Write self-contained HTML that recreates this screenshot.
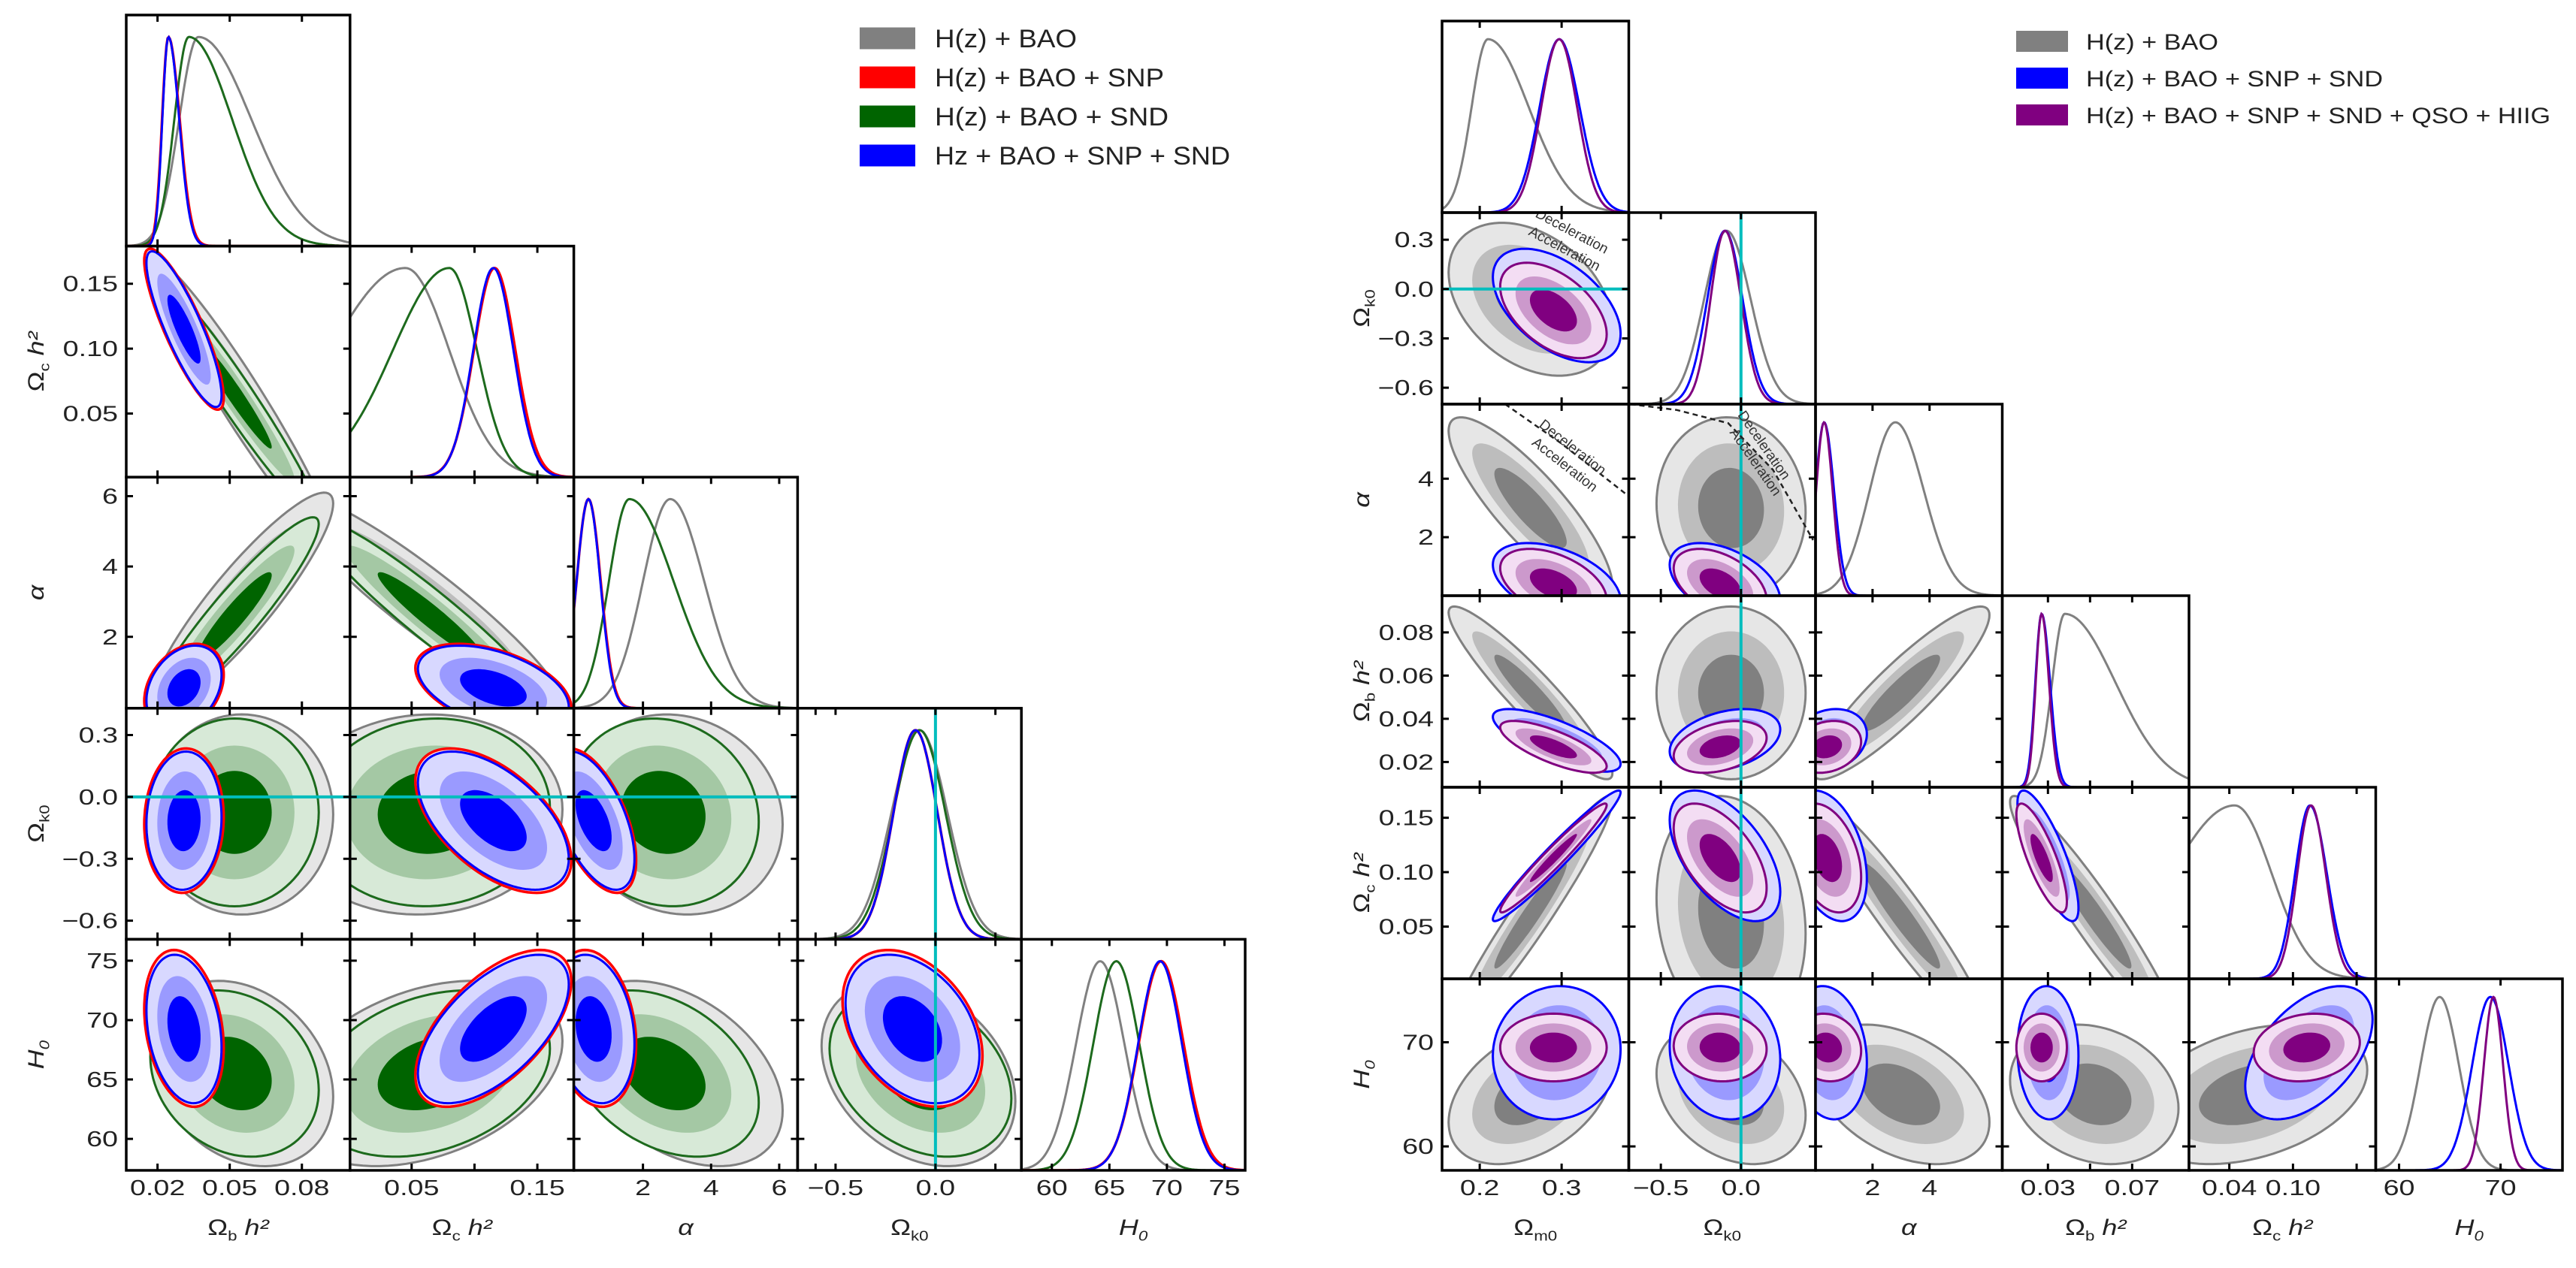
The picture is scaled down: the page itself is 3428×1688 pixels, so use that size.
<!DOCTYPE html>
<html><head><meta charset="utf-8">
<style>
html,body{margin:0;padding:0;background:#fff;}
svg{display:block;font-family:"Liberation Sans",sans-serif;}
</style></head>
<body>
<svg id="fig" xmlns="http://www.w3.org/2000/svg" width="3428" height="1688" viewBox="0 0 3428 1688">
<rect x="0" y="0" width="3428" height="1688" fill="#fff"/>
<defs id="defs"></defs>
</svg>
<script>
// ================= LEFT TRIANGLE DATA =================
// parameter order: Ob h^2, Oc h^2, alpha, Ok0, H0
// pair order for correlations: (0,1),(0,2),(0,3),(0,4),(1,2),(1,3),(1,4),(2,3),(2,4),(3,4)
const L_gray_center = [0.055, 0.060, 3.0, -0.085, 65.5];
const L_gray_extent = [0.038, 0.110, 3.1, 0.485, 7.8];
const L_gray_corr = [-0.96, 0.90, 0.0, -0.25, -0.93, 0.05, 0.35, -0.10, -0.40, -0.30];
const L_gray_peak = [0.037, 0.045, 2.8, -0.08, 64.2];
const L_gray_sigL = [0.008, 0.060, 0.8, 0.14, 2.1];
const L_gray_sigR = [0.022, 0.035, 1.0, 0.14, 2.1];

const L_green_center = [0.052, 0.065, 2.6, -0.075, 65.5];
const L_green_extent = [0.035, 0.095, 2.8, 0.455, 7.0];
const L_green_corr = [-0.97, 0.93, 0.0, -0.20, -0.95, 0.05, 0.30, -0.10, -0.35, -0.30];
const L_green_peak = [0.033, 0.080, 1.6, -0.08, 65.6];
const L_green_sigL = [0.006, 0.045, 0.6, 0.13, 2.0];
const L_green_sigR = [0.018, 0.022, 1.3, 0.13, 2.0];

const L_red_center = [0.031, 0.115, 0.55, -0.115, 69.3];
const L_red_extent = [0.0165, 0.062, 1.25, 0.35, 6.6];
const L_red_corr = [-0.85, 0.30, 0.05, -0.25, -0.45, -0.55, 0.60, -0.55, -0.20, -0.35];
const L_red_peak = [0.0245, 0.116, 0.4, -0.10, 69.5];
const L_red_sigL = [0.0026, 0.0165, 0.35, 0.11, 1.95];
const L_red_sigR = [0.0047, 0.0165, 0.36, 0.11, 1.95];

const L_blue_center = [0.031, 0.115, 0.55, -0.115, 69.25];
const L_blue_extent = [0.0156, 0.060, 1.2, 0.335, 6.25];
const L_blue_corr = [-0.85, 0.30, 0.05, -0.25, -0.45, -0.55, 0.60, -0.55, -0.20, -0.35];
const L_blue_peak = [0.0245, 0.115, 0.4, -0.10, 69.4];
const L_blue_sigL = [0.0025, 0.016, 0.35, 0.11, 1.9];
const L_blue_sigR = [0.0045, 0.016, 0.35, 0.11, 1.9];

const L_xticklabels = [["0.02","0.05","0.08"],["0.05","","0.15"],["2","4","6"],["","−0.5","0.0",""],["60","65","70","75"]];
const L_xtickvals = [[0.02,0.05,0.08],[0.05,0.10,0.15],[2,4,6],[-0.6,-0.5,0.0,0.3],[60,65,70,75]];
const L_ytickvals = [[0.02,0.05,0.08],[0.05,0.10,0.15],[2,4,6],[-0.6,-0.3,0.0,0.3],[60,65,70,75]];
const L_yticklabels = [["","",""],["0.05","0.10","0.15"],["2","4","6"],["−0.6","−0.3","0.0","0.3"],["60","65","70","75"]];
const L_legend = ["H(z) + BAO","H(z) + BAO + SNP","H(z) + BAO + SND","Hz + BAO + SNP + SND"];

// ================= RIGHT TRIANGLE DATA =================
// parameter order: Om0, Ok0, alpha, Ob h^2, Oc h^2, H0
// pairs: (0,1),(0,2),(0,3),(0,4),(0,5),(1,2),(1,3),(1,4),(1,5),(2,3),(2,4),(2,5),(3,4),(3,5),(4,5)
const R_gray_center = [0.262, -0.062, 3.0, 0.052, 0.060, 65.0];
const R_gray_extent = [0.100, 0.465, 3.1, 0.040, 0.110, 6.7];
const R_gray_corr = [-0.35, -0.85, -0.93, 0.96, 0.40, -0.05, 0.0, -0.15, -0.30, 0.90, -0.95, -0.40, -0.95, -0.20, 0.35];
const R_gray_peak = [0.210, -0.09, 2.8, 0.038, 0.045, 64.0];
const R_gray_sigL = [0.020, 0.14, 0.9, 0.006, 0.060, 1.9];
const R_gray_sigR = [0.050, 0.15, 1.0, 0.024, 0.035, 1.9];

const R_blue_center = [0.294, -0.10, 0.45, 0.030, 0.115, 69.0];
const R_blue_extent = [0.078, 0.345, 1.35, 0.0145, 0.060, 6.4];
const R_blue_corr = [-0.50, -0.45, -0.75, 0.97, 0.05, -0.45, 0.35, -0.55, -0.10, 0.20, -0.35, -0.15, -0.80, -0.05, 0.50];
const R_blue_peak = [0.297, -0.10, 0.3, 0.027, 0.116, 69.0];
const R_blue_sigL = [0.024, 0.11, 0.30, 0.0030, 0.014, 1.8];
const R_blue_sigR = [0.025, 0.11, 0.35, 0.0040, 0.016, 1.8];

const R_purple_center = [0.290, -0.13, 0.40, 0.027, 0.113, 69.5];
const R_purple_extent = [0.065, 0.290, 1.2, 0.012, 0.050, 3.25];
const R_purple_corr = [-0.50, -0.45, -0.75, 0.97, 0.0, -0.45, 0.35, -0.55, -0.05, 0.20, -0.35, -0.10, -0.80, 0.0, 0.15];
const R_purple_peak = [0.297, -0.10, 0.3, 0.027, 0.117, 69.3];
const R_purple_sigL = [0.022, 0.09, 0.28, 0.0028, 0.013, 0.95];
const R_purple_sigR = [0.022, 0.10, 0.30, 0.0035, 0.014, 0.95];

const R_xtickvals = [[0.2,0.3],[-0.5,0.0],[2,4],[0.03,0.05,0.07],[0.04,0.10,0.16],[60,70]];
const R_xticklabels = [["0.2","0.3"],["−0.5","0.0"],["2","4"],["0.03","","0.07"],["0.04","0.10",""],["60","70"]];
const R_ytickvals = [[],[-0.6,-0.3,0.0,0.3],[2,4],[0.02,0.04,0.06,0.08],[0.05,0.10,0.15],[60,70]];
const R_yticklabels = [[],["−0.6","−0.3","0.0","0.3"],["2","4"],["0.02","0.04","0.06","0.08"],["0.05","0.10","0.15"],["60","70"]];
const R_legend = ["H(z) + BAO","H(z) + BAO + SNP + SND","H(z) + BAO + SNP + SND + QSO + HIIG"];

// q0 = 0 (deceleration/acceleration) boundary lines
const R_q0_om = [0.231, 0.300, 0.382];
const R_q0_alpha_vs_om = [6.55, 5.20, 3.40];
const R_q0_ok = [-0.69, -0.40, -0.08, 0.20, 0.45];
const R_q0_alpha_vs_ok = [6.55, 6.35, 5.90, 4.30, 1.90];

// ================= LAYOUT =================
const NS = 'http://www.w3.org/2000/svg';
const svg = document.getElementById('fig');
const defs = document.getElementById('defs');
const K = [3.44, 2.45, 1.52];
const LG = {x0:168, cw:297.8, y0:20, rh:307.6, n:5,
  ranges:[[0.007,0.100],[0.001,0.179],[-0.03,6.54],[-0.69,0.43],[57.35,76.8]],
  names:['ob','oc','alpha','ok','h0']};
const RG = {x0:1919, cw:248.5, y0:28, rh:255, n:6,
  ranges:[[0.154,0.382],[-0.70,0.465],[0.0,6.55],[0.0083,0.097],[0.002,0.178],[57.7,76.1]],
  names:['om','ok','alpha','ob','oc','h0']};

const STY = {
  gray:{fill:['#e6e6e6','#bdbdbd','#808080'], line:'#808080', lw:3},
  green:{fill:['#d7e9d7','#a4c8a4','#006400'], line:'#1d6a1d', lw:3},
  red:{fill:['#ffdada','#ff9d9d','#ff0000'], line:'#ff0000', lw:3.5},
  blue:{fill:['#d8d8ff','#9a9aff','#0000ff'], line:'#0000ff', lw:3},
  purple:{fill:['#f3ddf3','#cc99cc','#800080'], line:'#800080', lw:3}
};

function mk(tag, parent){ const e=document.createElementNS(NS,tag); (parent||svg).appendChild(e); return e; }
function X(g,j,v){ const r=g.ranges[j]; return g.x0+j*g.cw+(v-r[0])/(r[1]-r[0])*g.cw; }
function Y(g,i,v){ const r=g.ranges[i]; return g.y0+(i+1)*g.rh-(v-r[0])/(r[1]-r[0])*g.rh; }
function pairIndex(n,i,j){ let a=Math.min(i,j), b=Math.max(i,j), k=0; for(let p=0;p<n;p++) for(let q=p+1;q<n;q++){ if(p===a&&q===b) return k; k++; } return -1; }

function clipFor(id, x, y, w, h){
  const cp=mk('clipPath',defs); cp.setAttribute('id',id);
  const r=mk('rect',cp); r.setAttribute('x',x); r.setAttribute('y',y); r.setAttribute('width',w); r.setAttribute('height',h);
}

function stretchedText(parent, x, y, str, size, anchor, sxScale, fill){
  const t=mk('text',parent);
  t.setAttribute('transform','translate('+x+','+y+') scale('+sxScale+',1)');
  t.setAttribute('font-size',size); t.setAttribute('text-anchor',anchor); t.setAttribute('fill',fill||'#222');
  t.textContent=str;
  return t;
}

function drawContours(g, grp, i, j, ds, name){
  const st=STY[name];
  const n=g.n;
  const rho=ds.corr[pairIndex(n,i,j)];
  const mx=ds.center[j], my=ds.center[i];
  const sdx=ds.extent[j]/3.44, sdy=ds.extent[i]/3.44;
  const s=Math.sqrt(Math.max(0,1-rho*rho));
  const paths=[];
  for(let L=0;L<3;L++){
    const k=K[L]; let d='';
    for(let t=0;t<=96;t++){
      const a=t/96*2*Math.PI;
      const u=Math.cos(a), w=rho*Math.cos(a)+s*Math.sin(a);
      const px=X(g,j,mx+k*sdx*u), py=Y(g,i,my+k*sdy*w);
      d+=(t?'L':'M')+px.toFixed(1)+' '+py.toFixed(1);
    }
    d+='Z'; paths.push(d);
    const p=mk('path',grp); p.setAttribute('d',d); p.setAttribute('fill',st.fill[L]);
    
    
  }
  const o=mk('path',grp); o.setAttribute('d',paths[0]); o.setAttribute('fill','none');
  o.setAttribute('stroke',st.line); o.setAttribute('stroke-width',st.lw);
  
  
}

function drawMarginal(g, grp, j, ds, name){
  const st=STY[name]; const r=g.ranges[j];
  const base=g.y0+(j+1)*g.rh; const h=g.rh;
  let d='';
  for(let t=0;t<=200;t++){
    const v=r[0]+(r[1]-r[0])*t/200;
    const sg = v<ds.peak[j]? ds.sigL[j] : ds.sigR[j];
    const dens=Math.exp(-0.5*Math.pow((v-ds.peak[j])/sg,2));
    const py=base-0.905*h*dens;
    d+=(t?'L':'M')+X(g,j,v).toFixed(1)+' '+py.toFixed(1);
  }
  const p=mk('path',grp); p.setAttribute('d',d); p.setAttribute('fill','none');
  p.setAttribute('stroke',st.line); p.setAttribute('stroke-width',st.lw);
  
  
}

function tickMarks(grp, x, y, w, h, xt, yt, g, i, j){
  let d='';
  const T=9;
  if(xt) xt.forEach(v=>{ const px=X(g,j,v); if(px<x+2||px>x+w-2) return; d+='M'+px+' '+(y+h)+'v'+(-T)+'M'+px+' '+y+'v'+T; });
  if(yt) yt.forEach(v=>{ const py=Y(g,i,v); if(py<y+2||py>y+h-2) return; d+='M'+x+' '+py+'h'+T+'M'+(x+w)+' '+py+'h'+(-T); });
  const p=mk('path',grp); p.setAttribute('d',d); p.setAttribute('stroke','#000'); p.setAttribute('stroke-width',3); p.setAttribute('fill','none');
  
  
}

function cyan(grp, x1,y1,x2,y2){
  const l=mk('line',grp); l.setAttribute('x1',x1); l.setAttribute('y1',y1); l.setAttribute('x2',x2); l.setAttribute('y2',y2);
  l.setAttribute('stroke','#00bdbd'); l.setAttribute('stroke-width',4);
  
  
}

function axisLabel(parent, x, y, base, sub, tail, italic, rotate, size){
  const t=mk('text',parent);
  t.setAttribute('font-size',size); t.setAttribute('text-anchor','middle'); t.setAttribute('fill','#222');
  t.setAttribute('transform','translate('+x+','+y+')'+(rotate?' rotate(-90)':'')+' scale(1.2,1)');
  if(italic) t.setAttribute('font-style','italic');
  const a=mk('tspan',t); a.textContent=base;
  if(sub){ const b=mk('tspan',t); b.setAttribute('font-size',size*0.62); b.setAttribute('dy',size*0.25); b.textContent=sub; }
  if(tail){ const c=mk('tspan',t); c.setAttribute('dy',sub?-size*0.25:0); c.setAttribute('font-style','italic'); c.textContent=' '+tail; }
  return t;
}

function buildTriangle(g, sets, xtv, xtl, ytv, ytl, labels, side){
  const root=mk('g'); 
  
  const n=g.n;
  const okIdx=g.names.indexOf('ok');
  for(let i=0;i<n;i++){
    for(let j=0;j<=i;j++){
      const x=g.x0+j*g.cw, y=g.y0+i*g.rh, w=g.cw, h=g.rh;
      const pg=mk('g',root);
      
      
      const cid=side+'clip'+i+'_'+j; clipFor(cid,x,y,w,h);
      const inner=mk('g',pg); inner.setAttribute('clip-path','url(#'+cid+')');
      if(i===j){
        sets.forEach(s=>drawMarginal(g,inner,j,s.ds,s.name));
        if(j===okIdx) cyan(inner,X(g,j,0),y,X(g,j,0),y+h);
      } else {
        sets.forEach(s=>drawContours(g,inner,i,j,s.ds,s.name));
        if(i===okIdx) cyan(inner,x,Y(g,i,0),x+w,Y(g,i,0));
        if(j===okIdx) cyan(inner,X(g,j,0),y,X(g,j,0),y+h);
      }
      if(side==='right') drawQ0(g,inner,i,j);
      tickMarks(pg,x,y,w,h,xtv[j], i===j?null:ytv[i], g,i,j);
      const fr=mk('rect',pg); fr.setAttribute('x',x); fr.setAttribute('y',y); fr.setAttribute('width',w); fr.setAttribute('height',h);
      fr.setAttribute('fill','none'); fr.setAttribute('stroke','#000'); fr.setAttribute('stroke-width',3.5);
      
      
    }
  }
  const bottom=g.y0+n*g.rh;
  for(let j=0;j<n;j++){
    xtv[j].forEach((v,k)=>{ const lab=xtl[j][k]; if(!lab) return;
      const t=stretchedText(root, X(g,j,v), bottom+33, lab, 29, 'middle', 1.3);
      
      
    });
  }
  for(let i=1;i<n;i++){
    ytv[i].forEach((v,k)=>{ const lab=ytl[i][k]; if(!lab) return;
      const t=stretchedText(root, g.x0-11, Y(g,i,v)+10, lab, 29, 'end', 1.3);
      
      
    });
  }
  for(let j=0;j<n;j++){
    const L=labels[j];
    const t=axisLabel(root, g.x0+(j+0.5)*g.cw, 1644, L[0], L[1], L[2], L[3], false, 30);
    
    
  }
  for(let i=1;i<n;i++){
    const L=labels[i];
    const t=axisLabel(root, side==='left'?58:1822, g.y0+(i+0.5)*g.rh, L[0], L[1], L[2], L[3], true, 30);
    
    
  }
}

function drawQ0(g, grp, i, j){
  const nm=g.names;
  function poly(xs, ys, jx, iy){
    let d='';
    xs.forEach((v,k)=>{ d+=(k?'L':'M')+X(g,jx,v).toFixed(1)+' '+Y(g,iy,ys[k]).toFixed(1); });
    const p=mk('path',grp); p.setAttribute('d',d); p.setAttribute('fill','none');
    p.setAttribute('stroke','#222'); p.setAttribute('stroke-width',2.5); p.setAttribute('stroke-dasharray','7 5');
    
    
  }
  function lbl(x,y,ang){
    const a=mk('text',grp); a.setAttribute('font-size',19); a.setAttribute('fill','#333'); a.setAttribute('text-anchor','middle');
    a.setAttribute('transform','translate('+x+','+(y-6)+') rotate('+ang+')'); a.textContent='Deceleration';
    
    
    const b=mk('text',grp); b.setAttribute('font-size',19); b.setAttribute('fill','#333'); b.setAttribute('text-anchor','middle');
    b.setAttribute('transform','translate('+(x-8)+','+(y+14)+') rotate('+ang+')'); b.setAttribute('dy',4); b.textContent='Acceleration';
    
    
  }
  if(nm[i]==='alpha' && nm[j]==='om'){
    poly(R_q0_om, R_q0_alpha_vs_om, j, i);
    lbl(X(g,j,0.31), Y(g,i,4.9)+4, 38);
  }
  if(nm[i]==='alpha' && nm[j]==='ok'){
    poly(R_q0_ok, R_q0_alpha_vs_ok, j, i);
    lbl(X(g,j,0.12), Y(g,i,4.9), 55);
  }
  if(nm[i]==='ok' && nm[j]==='om'){
    lbl(X(g,j,0.31), Y(g,i,0.30), 28);
  }
}

buildTriangle(LG,
  [{name:'gray',ds:{center:L_gray_center,extent:L_gray_extent,corr:L_gray_corr,peak:L_gray_peak,sigL:L_gray_sigL,sigR:L_gray_sigR}},
   {name:'green',ds:{center:L_green_center,extent:L_green_extent,corr:L_green_corr,peak:L_green_peak,sigL:L_green_sigL,sigR:L_green_sigR}},
   {name:'red',ds:{center:L_red_center,extent:L_red_extent,corr:L_red_corr,peak:L_red_peak,sigL:L_red_sigL,sigR:L_red_sigR}},
   {name:'blue',ds:{center:L_blue_center,extent:L_blue_extent,corr:L_blue_corr,peak:L_blue_peak,sigL:L_blue_sigL,sigR:L_blue_sigR}}],
  L_xtickvals, L_xticklabels, L_ytickvals, L_yticklabels,
  [['Ω','b','h²',false],['Ω','c','h²',false],['α','','',true],['Ω','k0','',false],['H','0','',true]], 'left');

buildTriangle(RG,
  [{name:'gray',ds:{center:R_gray_center,extent:R_gray_extent,corr:R_gray_corr,peak:R_gray_peak,sigL:R_gray_sigL,sigR:R_gray_sigR}},
   {name:'blue',ds:{center:R_blue_center,extent:R_blue_extent,corr:R_blue_corr,peak:R_blue_peak,sigL:R_blue_sigL,sigR:R_blue_sigR}},
   {name:'purple',ds:{center:R_purple_center,extent:R_purple_extent,corr:R_purple_corr,peak:R_purple_peak,sigL:R_purple_sigL,sigR:R_purple_sigR}}],
  R_xtickvals, R_xticklabels, R_ytickvals, R_yticklabels,
  [['Ω','m0','',false],['Ω','k0','',false],['α','','',true],['Ω','b','h²',false],['Ω','c','h²',false],['H','0','',true]], 'right');

// ---------------- legends ----------------
const legL=mk('g'); 

const legLcol=['#808080','#ff0000','#006400','#0000ff'];
const legLw=[189,305,311,393];
L_legend.forEach((s,k)=>{
  const cy=51+k*52;
  const r=mk('rect',legL); r.setAttribute('x',1144); r.setAttribute('y',cy-14.5); r.setAttribute('width',74); r.setAttribute('height',29); r.setAttribute('fill',legLcol[k]);
  
  
  const t=mk('text',legL); t.setAttribute('x',1244); t.setAttribute('y',cy+12); t.setAttribute('font-size',34); t.setAttribute('fill','#222');
  t.setAttribute('textLength',legLw[k]); t.setAttribute('lengthAdjust','spacingAndGlyphs'); t.textContent=s;
  
  
});
const legR=mk('g'); 

const legRcol=['#808080','#0000ff','#800080'];
const legRw=[176,395,618];
R_legend.forEach((s,k)=>{
  const cy=55+k*49;
  const r=mk('rect',legR); r.setAttribute('x',2683); r.setAttribute('y',cy-14); r.setAttribute('width',69); r.setAttribute('height',28); r.setAttribute('fill',legRcol[k]);
  
  
  const t=mk('text',legR); t.setAttribute('x',2776); t.setAttribute('y',cy+11); t.setAttribute('font-size',30); t.setAttribute('fill','#222');
  t.setAttribute('textLength',legRw[k]); t.setAttribute('lengthAdjust','spacingAndGlyphs'); t.textContent=s;
  
  
});
</script>
</body></html>
